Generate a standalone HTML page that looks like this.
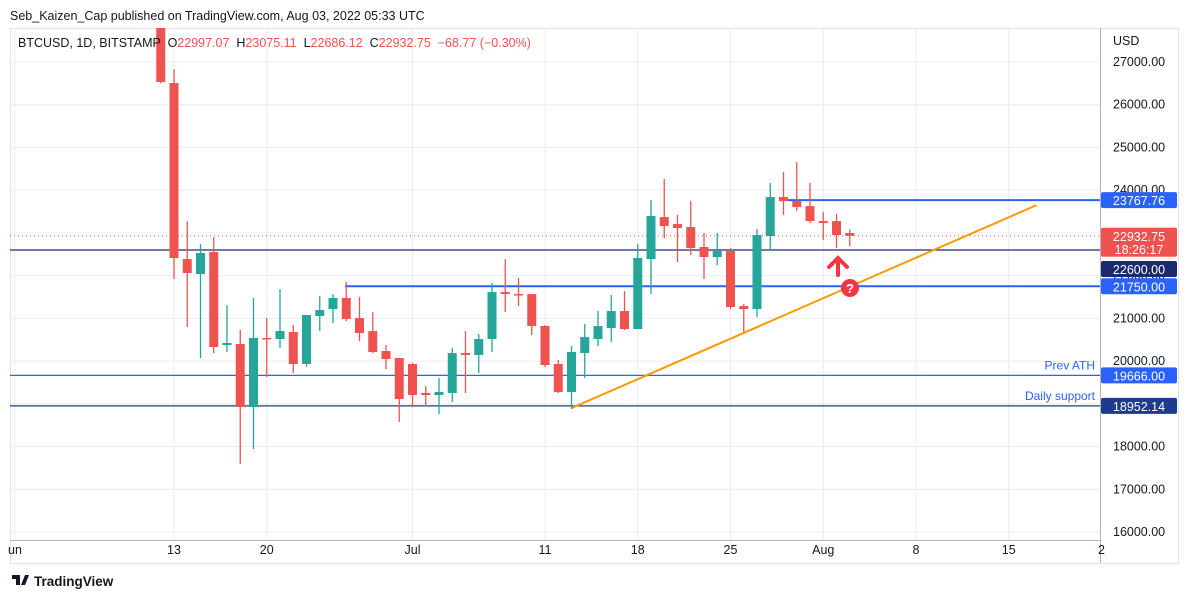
<!DOCTYPE html>
<html><head><meta charset="utf-8"><style>
body{margin:0;width:1192px;height:598px;background:#fff;font-family:"Liberation Sans",sans-serif;overflow:hidden}
svg{position:absolute;left:0;top:0}
</style></head><body>
<svg id="c" width="1192" height="598" xmlns="http://www.w3.org/2000/svg"></svg>
<script>
const days=[-1,0,1,2,3,4,5,6,7,8,9,10,11,12,13,14,15,16,17,18,19,20,21,22,23,24,25,26,27,28,29,30,31,32,33,34,35,36,37,38,39,40,41,42,43,44,45,46,47,48,49,50,51];
const opens=[28400,26507,22388,22037,22552,20376,20399,18925,20540,20516,20680,19931,21054,21218,21476,21008,20703,20235,20072,19931,19253,19206,19253,20188,20142,20516,21616,21569,21569,20820,19931,19276,20188,20516,20773,21171,20750,22388,23371,23207,23137,22669,22435,22575,21288,21218,22926,23839,23745,23628,23277,23277,22997];
const highs=[28500,26834,23277,22739,22903,21312,20727,21476,21008,21686,20844,21078,21522,21569,21850,21499,21148,20376,20072,19955,19416,19604,20306,20703,20633,21827,22388,21944,21569,20844,20025,20352,20867,21171,21546,21639,22739,23769,24260,23418,23745,22997,22997,22646,21335,23090,24167,24424,24658,24167,23488,23441,23075];
const lows=[26500,21920,20797,20072,20188,20212,17591,17942,19627,20306,19721,19861,20703,20891,20937,20469,20188,19814,18574,18925,18948,18761,19042,19253,19721,20212,21148,21288,20610,19861,19253,18878,19604,20352,20446,20727,20750,21569,22880,22318,22482,21920,22248,21218,20680,21031,22575,23418,23511,23231,22833,22646,22686];
const closes=[26531,22412,22061,22529,20329,20423,18925,20540,20516,20703,19931,21078,21195,21476,20984,20657,20212,20048,19112,19206,19206,19276,20188,20142,20516,21616,21569,21546,20820,19908,19276,20212,20563,20820,21171,20750,22412,23394,23160,23113,22646,22435,22575,21265,21218,22950,23839,23745,23605,23277,23231,22950,22932];
const yTicks=[27000,26000,25000,24000,23000,22000,21000,20000,19000,18000,17000,16000];
const xTickDays=[-12,0,7,18,28,35,42,49,56,63,70];
const xTickLabels=["un","13","20","Jul","11","18","25","Aug","8","15","2"];
const levels=[23767.76,22600,21750,19666,18952.14];

const L=10,R=1100,T=28,B=540;
const Y=p=>532-(p-16000)*0.04273;
const X=d=>174+d*13.25;
const S='http://www.w3.org/2000/svg';
const svg=document.getElementById('c');
function mk(t,a,parent){const e=document.createElementNS(S,t);for(const k in a)e.setAttribute(k,a[k]);(parent||svg).appendChild(e);return e;}
function tx(x,y,s,a){const e=mk('text',Object.assign({x:x,y:y,'font-size':12,fill:'#131722'},a));e.textContent=s;return e;}

mk('rect',{x:10.5,y:28.5,width:1168,height:535,fill:'none',stroke:'#e0e3eb'});
mk('line',{x1:1100.5,y1:28,x2:1100.5,y2:563,stroke:'#b2b5be'});
mk('line',{x1:10,y1:540.5,x2:1100,y2:540.5,stroke:'#b2b5be'});
yTicks.forEach(p=>{
 const g=mk('line',{x1:L,x2:R,y1:Y(p),y2:Y(p),stroke:'#e9edf3'});
 
 const t=tx(1113,Y(p)+4,p.toFixed(2),{'font-size':12.5,fill:'#131722'});
 
});
xTickDays.forEach((d,i)=>{
 const x=X(d);
 if(x>L&&x<R){const g=mk('line',{x1:x,x2:x,y1:T,y2:B,stroke:'#e9edf3'});
 }
 const t=tx(x,554,xTickLabels[i],{'text-anchor':'middle','font-size':12.5});
 
});
const lvStyle=[{x1:780,c:'#2962ff',w:2},{x1:10,c:'#1a2a6c',w:1.3},{x1:345,c:'#2962ff',w:2},{x1:10,c:'#2962ff',w:1.3},{x1:10,c:'#1e3a8a',w:1.3}];
levels.forEach((p,i)=>{
 const l=mk('line',{x1:lvStyle[i].x1,x2:R,y1:Y(p),y2:Y(p),stroke:lvStyle[i].c,'stroke-width':lvStyle[i].w});
 
});
tx(1095,Y(19666)-6,'Prev ATH',{'text-anchor':'end',fill:'#2962ff'});
tx(1095,Y(18952.14)-6,'Daily support',{'text-anchor':'end',fill:'#2962ff'});
const last=closes[closes.length-1];
mk('line',{x1:L,x2:R,y1:Y(last),y2:Y(last),stroke:'#ef5350','stroke-dasharray':'1,3'});
const tl=mk('line',{x1:X(30),y1:Y(18900),x2:X(65.1),y2:Y(23650),stroke:'#ff9800','stroke-width':2});


const clip=mk('clipPath',{id:'cp'});mk('rect',{x:L,y:T,width:R-L,height:B-T},clip);
const cg=mk('g',{'clip-path':'url(#cp)'});
days.forEach((d,i)=>{
 const up=closes[i]>=opens[i];const col=up?'#26a69a':'#ef5350';const x=X(d);
 const w=mk('line',{x1:x,x2:x,y1:Y(highs[i]),y2:Y(lows[i]),stroke:col,'stroke-width':1.3},cg);
 
 const t=Y(Math.max(opens[i],closes[i])),b=Y(Math.min(opens[i],closes[i]));
 const r=mk('rect',{x:x-4.5,y:t,width:9,height:Math.max(1.5,b-t),fill:col},cg);
 
});

function plabel(y,s,bg,h){mk('rect',{x:1101,y:y-8,width:76,height:h||16,fill:bg,rx:2});
 tx(1139,y+5,s,{'text-anchor':'middle',fill:'#fff','font-size':12.5});}
plabel(Y(23767.76),'23767.76','#2962ff');
plabel(Y(22600)+19,'22600.00','#1a2a6c');
plabel(Y(21750),'21750.00','#2962ff');
plabel(Y(19666),'19666.00','#2962ff');
plabel(Y(18952.14),'18952.14','#1e3a8a');
plabel(Y(last),'22932.75','#ef5350',29);
tx(1139,Y(last)+18,'18:26:17',{'text-anchor':'middle',fill:'#fff','font-size':12.5});
tx(1113,45,'USD',{'font-size':12.5});

const ar=mk('g',{});
mk('path',{d:'M829 267 L838 258 L847 267 M838 259 L838 275',stroke:'#f23645','stroke-width':4,fill:'none','stroke-linecap':'round'},ar);
mk('circle',{cx:850,cy:288,r:9,fill:'#f23645'});
tx(850,293,'?',{'text-anchor':'middle',fill:'#fff','font-size':13,'font-weight':'bold'});

tx(10,20,'Seb_Kaizen_Cap published on TradingView.com, Aug 03, 2022 05:33 UTC',{'font-size':12.5});
const lg=tx(18,47,'',{'font-size':12.5});
lg.innerHTML='BTCUSD, 1D, BITSTAMP  <tspan fill="#131722">O</tspan><tspan fill="#ef5350">22997.07</tspan>  <tspan>H</tspan><tspan fill="#ef5350">23075.11</tspan>  <tspan>L</tspan><tspan fill="#ef5350">22686.12</tspan>  <tspan>C</tspan><tspan fill="#ef5350">22932.75  −68.77 (−0.30%)</tspan>';
lg.setAttribute('xml:space','preserve');lg.style.whiteSpace='pre';
mk('path',{d:'M12 575 h8 v10 h-4 v-6 h-4z M21 585 l4 -10 h4 l-4 10z',fill:'#131722'});
tx(34,586,'TradingView',{'font-size':13.5,'font-weight':'bold'});
</script>
</body></html>
